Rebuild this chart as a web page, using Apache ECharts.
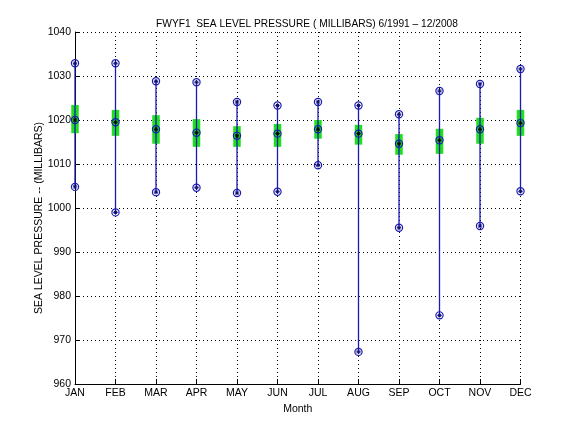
<!DOCTYPE html>
<html>
<head>
<meta charset="utf-8">
<script src="https://cdn.jsdelivr.net/npm/echarts@6/dist/echarts.min.js"></script>
<style>html,body{margin:0;padding:0;background:#fff}#c{width:576px;height:432px}</style>
</head>
<body>
<div id="c"></div>
<script>
var months = ['JAN','FEB','MAR','APR','MAY','JUN','JUL','AUG','SEP','OCT','NOV','DEC'];
var maxP  = [1032.9, 1032.9, 1028.8, 1028.6, 1024.1, 1023.3, 1024.1, 1023.3, 1021.3, 1026.6, 1028.2, 1031.6];
var meanP = [1020.0, 1019.5, 1017.9, 1017.1, 1016.4, 1016.9, 1017.9, 1016.9, 1014.6, 1015.4, 1017.9, 1019.3];
var minP  = [1004.8, 999.0, 1003.6, 1004.6, 1003.4, 1003.7, 1009.7, 967.3, 995.5, 975.6, 995.9, 1003.8];
var boxHi = [1023.4, 1022.3, 1021.1, 1020.2, 1018.6, 1019.1, 1020.0, 1018.9, 1016.8, 1018.0, 1020.5, 1022.3];
var boxLo = [1017.0, 1016.4, 1014.6, 1013.9, 1013.9, 1013.9, 1015.75, 1014.4, 1012.1, 1012.3, 1014.6, 1016.4];
var yTicks = [960, 970, 980, 990, 1000, 1010, 1020, 1030, 1040];

var FONT = 'Liberation Sans';
var BLUE = '#1a1ab4';
var GREEN = '#1fe01f';

var data = months.map(function (m, i) {
  return [i, minP[i], maxP[i], boxLo[i], boxHi[i], meanP[i]];
});

function marker(p, inner) {
  var r = 3.6, s = 2.2;
  return [
    {type: 'circle', shape: {cx: p[0], cy: p[1], r: r}, style: {fill: 'none', stroke: BLUE, lineWidth: 1.2}, z2: 5},
    {type: 'line', shape: {x1: p[0]-s, y1: p[1], x2: p[0]+s, y2: p[1]}, style: {stroke: inner, lineWidth: 1.2}, z2: 6},
    {type: 'line', shape: {x1: p[0], y1: p[1]-s, x2: p[0], y2: p[1]+s}, style: {stroke: inner, lineWidth: 1.2}, z2: 6},
    {type: 'line', shape: {x1: p[0]-s*0.7, y1: p[1]-s*0.7, x2: p[0]+s*0.7, y2: p[1]+s*0.7}, style: {stroke: inner, lineWidth: 1}, z2: 6},
    {type: 'line', shape: {x1: p[0]-s*0.7, y1: p[1]+s*0.7, x2: p[0]+s*0.7, y2: p[1]-s*0.7}, style: {stroke: inner, lineWidth: 1}, z2: 6}
  ];
}

function renderItem(params, api) {
  var x = api.value(0);
  var pMin = api.coord([x, api.value(1)]);
  var pMax = api.coord([x, api.value(2)]);
  var pLo = api.coord([x, api.value(3)]);
  var pHi = api.coord([x, api.value(4)]);
  var pMean = api.coord([x, api.value(5)]);
  var w = 7.5;
  var children = [
    {type: 'rect', shape: {x: pHi[0]-w/2, y: pHi[1], width: w, height: pLo[1]-pHi[1]}, style: {fill: GREEN}, z2: 1},
    {type: 'line', shape: {x1: pMax[0], y1: pMax[1], x2: pMin[0], y2: pMin[1]}, style: {stroke: BLUE, lineWidth: 1.3}, z2: 2}
  ];
  children = children.concat(marker(pMax, '#101070'), marker(pMin, '#101070'), marker(pMean, '#000000'));
  return {type: 'group', children: children};
}

var chart = echarts.init(document.getElementById('c'), null, {renderer: 'canvas'});
chart.setOption({
  animation: false,
  backgroundColor: '#ffffff',
  title: {
    text: 'FWYF1  SEA LEVEL PRESSURE ( MILLIBARS) 6/1991 \u2013 12/2008',
    left: 302, top: 14, textAlign: 'center',
    textStyle: {fontFamily: FONT, fontSize: 10.2, fontWeight: 'normal', color: '#000'}
  },
  graphic: [{
    type: 'text', x: 39, y: 218, rotation: Math.PI / 2,
    style: {text: 'SEA LEVEL PRESSURE -- (MILLIBARS)', fontFamily: FONT, fontSize: 10.5, fill: '#000',
            align: 'center', verticalAlign: 'middle'}
  }],
  grid: {left: 75, right: 55.5, top: 32, bottom: 48, containLabel: false},
  xAxis: {
    type: 'category', data: months, boundaryGap: false,
    name: 'Month', nameLocation: 'middle', nameGap: 16,
    nameTextStyle: {fontFamily: FONT, fontSize: 10.5, color: '#000'},
    axisLine: {show: true, lineStyle: {color: '#000', width: 1}},
    axisTick: {show: true, inside: true, length: 5, lineStyle: {color: '#000'}},
    axisLabel: {fontFamily: FONT, fontSize: 10.5, color: '#000', margin: 4, interval: 0},
    splitLine: {show: true, lineStyle: {color: '#000', type: [1, 3], width: 1}}
  },
  yAxis: {
    type: 'value', min: yTicks[0], max: yTicks[yTicks.length-1], interval: 10,
    axisLine: {show: true, lineStyle: {color: '#000', width: 1}},
    axisTick: {show: true, inside: true, length: 5, lineStyle: {color: '#000'}},
    axisLabel: {fontFamily: FONT, fontSize: 10.5, color: '#000', margin: 4,
                formatter: function (v) { return String(v); }},
    splitLine: {show: true, lineStyle: {color: '#000', type: [1, 3], width: 1}}
  },
  series: [{
    type: 'custom',
    renderItem: renderItem,
    encode: {x: 0, y: [1, 2, 3, 4, 5]},
    data: data,
    clip: false,
    z: 10
  }]
});
</script>
</body>
</html>
